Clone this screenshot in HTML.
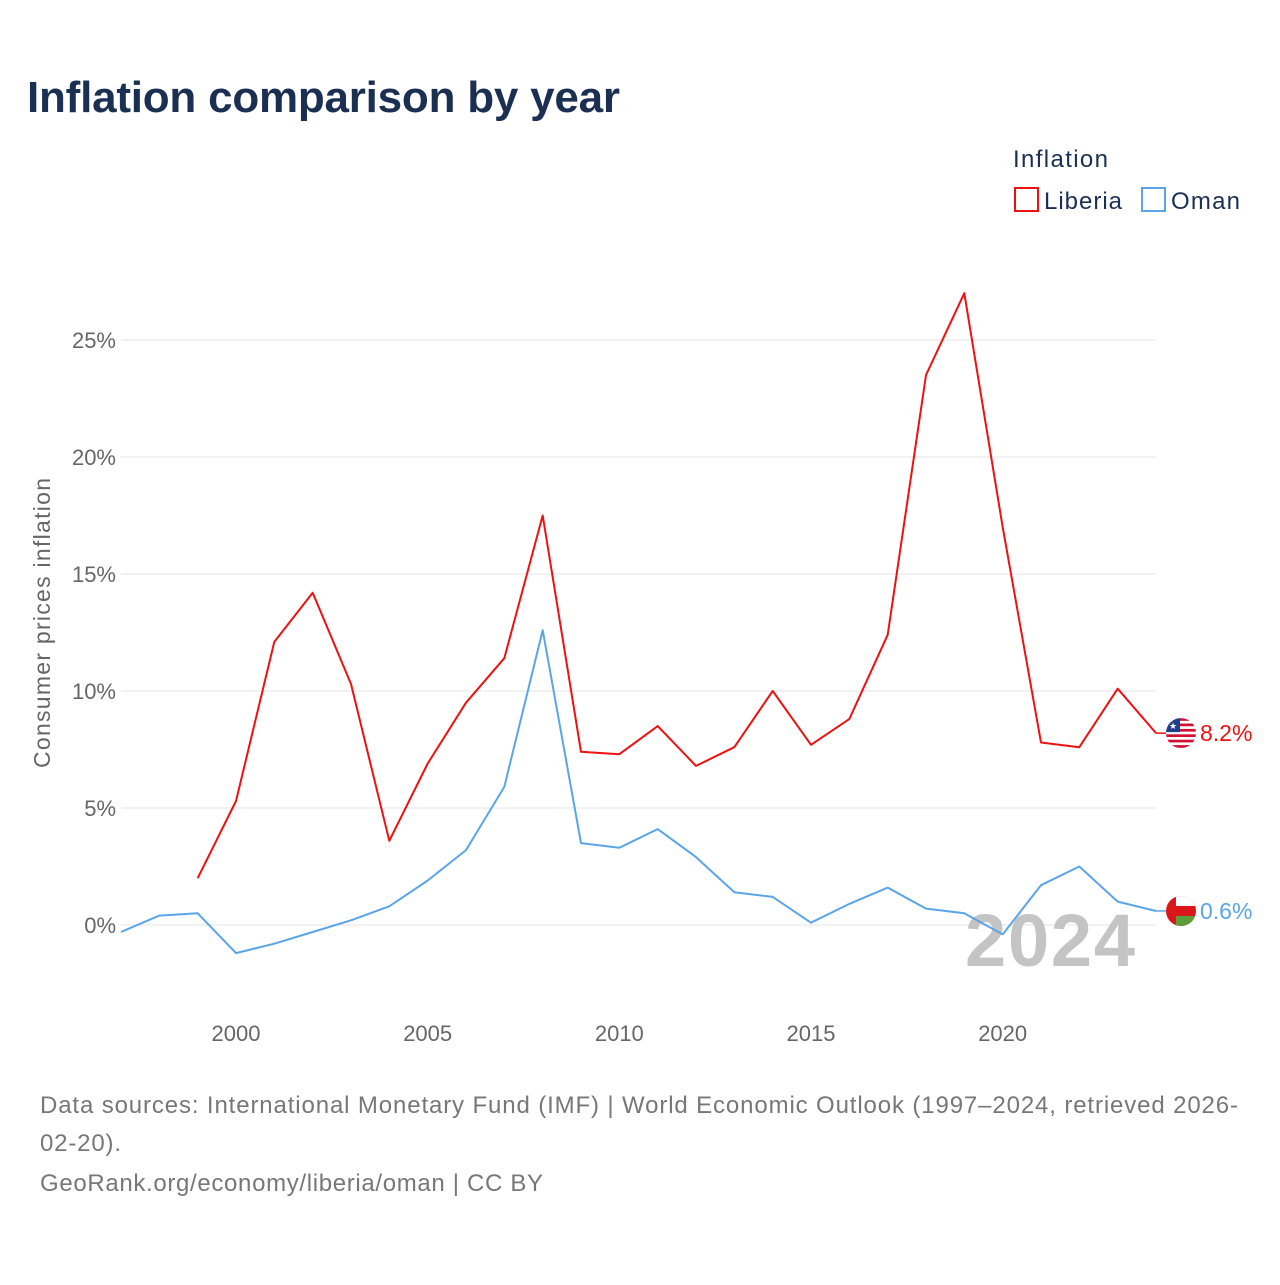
<!DOCTYPE html>
<html><head><meta charset="utf-8"><style>
body{margin:0;background:#fff;font-family:"Liberation Sans",sans-serif;}
</style></head><body>
<svg id="chart" width="1280" height="1280" xmlns="http://www.w3.org/2000/svg">
<text x="27" y="112" font-size="44" font-weight="bold" fill="#1b2f52" textLength="593">Inflation comparison by year</text>
<g>
<text x="1013" y="167" font-size="24" fill="#1b2f52" textLength="95">Inflation</text>
<g><rect x="1015" y="188" width="23" height="23" fill="none" stroke="#ee1111" stroke-width="2"/><text x="1044" y="209" font-size="24" fill="#1b2f52" textLength="78">Liberia</text></g>
<g><rect x="1142" y="188" width="23" height="23" fill="none" stroke="#5aa5e8" stroke-width="2"/><text x="1171" y="209" font-size="24" fill="#1b2f52" textLength="69">Oman</text></g>
</g>
<g id="grid"></g>
<g id="yticks"></g>
<g id="xticks"></g>
<text transform="translate(50,623) rotate(-90)" text-anchor="middle" font-size="23" fill="#666" textLength="290">Consumer prices inflation</text>
<text x="1135" y="966" text-anchor="end" font-size="74" font-weight="bold" fill="#c4c4c4" textLength="170">2024</text>
<g id="series"></g>
<text x="40" y="1113" font-size="24" fill="#777" textLength="1198">Data sources: International Monetary Fund (IMF) | World Economic Outlook (1997–2024, retrieved 2026-</text>
<text x="40" y="1151" font-size="24" fill="#777" textLength="81">02-20).</text>
<text x="40" y="1191" font-size="24" fill="#777" textLength="503">GeoRank.org/economy/liberia/oman | CC BY</text>
</svg>
<script>
const years=[1997,1998,1999,2000,2001,2002,2003,2004,2005,2006,2007,2008,2009,2010,2011,2012,2013,2014,2015,2016,2017,2018,2019,2020,2021,2022,2023,2024];
const liberia=[null,null,2.0,5.3,12.1,14.2,10.3,3.6,6.9,9.5,11.4,17.5,7.4,7.3,8.5,6.8,7.6,10.0,7.7,8.8,12.4,23.5,27.0,17.0,7.8,7.6,10.1,8.2];
const oman=[-0.3,0.4,0.5,-1.2,-0.8,-0.3,0.2,0.8,1.9,3.2,5.9,12.6,3.5,3.3,4.1,2.9,1.4,1.2,0.1,0.9,1.6,0.7,0.5,-0.4,1.7,2.5,1.0,0.6];
const yTicks=[0,5,10,15,20,25];
const xTicks=[2000,2005,2010,2015,2020];
const NS="http://www.w3.org/2000/svg";
const X=y=>121+(y-1997)*(1156-121)/27;
const Y=v=>925-v*23.4;
function mk(t,a,p){const e=document.createElementNS(NS,t);for(const k in a)e.setAttribute(k,a[k]);p.appendChild(e);return e;}
const grid=document.getElementById('grid'),yt=document.getElementById('yticks'),xt=document.getElementById('xticks'),ser=document.getElementById('series');
yTicks.forEach(v=>{
 const l=mk('line',{x1:121,x2:1156,y1:Y(v),y2:Y(v),stroke:'#e6e6e6','stroke-width':1},grid);
 
 
 const t=mk('text',{x:116,y:Y(v)+8,'text-anchor':'end','font-size':22,fill:'#666'},yt);
 t.textContent=v+'%';
 
 
});
xTicks.forEach(v=>{
 const t=mk('text',{x:X(v),y:1041,'text-anchor':'middle','font-size':22,fill:'#666'},xt);
 t.textContent=v;
 
 
});
function line(vals,color,name){
 let d='';vals.forEach((v,i)=>{if(v===null)return;d+=(d?'L':'M')+X(years[i]).toFixed(1)+','+Y(v).toFixed(1);});
 const p=mk('path',{d:d,fill:'none',stroke:color,'stroke-width':2,'stroke-linejoin':'round'},ser);
 
 
 const last=vals[vals.length-1],lx=X(years[years.length-1]),ly=Y(last);
 mk('line',{x1:lx,x2:lx+10,y1:ly,y2:ly,stroke:color,'stroke-width':1.5},ser);
 const t=mk('text',{x:lx+44,y:ly+8,'font-size':23,fill:color},ser);
 t.textContent=last.toFixed(1)+'%';
 
 
 return [lx+25,ly];
}
const [lx1,ly1]=line(liberia,'#ee1111','liberia');
const [lx2,ly2]=line(oman,'#5aa5e8','oman');
const f1=mk('g',{},ser);


const cp1=mk('clipPath',{id:'c1'},f1);mk('circle',{cx:lx1,cy:ly1,r:15},cp1);
const g1=mk('g',{'clip-path':'url(#c1)'},f1);
mk('rect',{x:lx1-15,y:ly1-15,width:30,height:30,fill:'#fff'},g1);
for(let i=0;i<6;i++)mk('rect',{x:lx1-15,y:ly1-15+i*5.4,width:30,height:2.7,fill:'#d21034'},g1);
mk('rect',{x:lx1-15,y:ly1-15,width:14,height:14,fill:'#1f3e8c'},g1);
mk('text',{x:lx1-8,y:ly1-4,'font-size':9,fill:'#fff','text-anchor':'middle'},g1).textContent='★';
const f2=mk('g',{},ser);


const cp=mk('clipPath',{id:'c2'},f2);mk('circle',{cx:lx2,cy:ly2,r:15},cp);
const g2=mk('g',{'clip-path':'url(#c2)'},f2);
mk('rect',{x:lx2-15,y:ly2-15,width:30,height:30,fill:'#db161b'},g2);
mk('rect',{x:lx2-5,y:ly2-15,width:20,height:10,fill:'#fff'},g2);
mk('rect',{x:lx2-5,y:ly2+5,width:20,height:10,fill:'#5c9f3a'},g2);
</script>
</body></html>
